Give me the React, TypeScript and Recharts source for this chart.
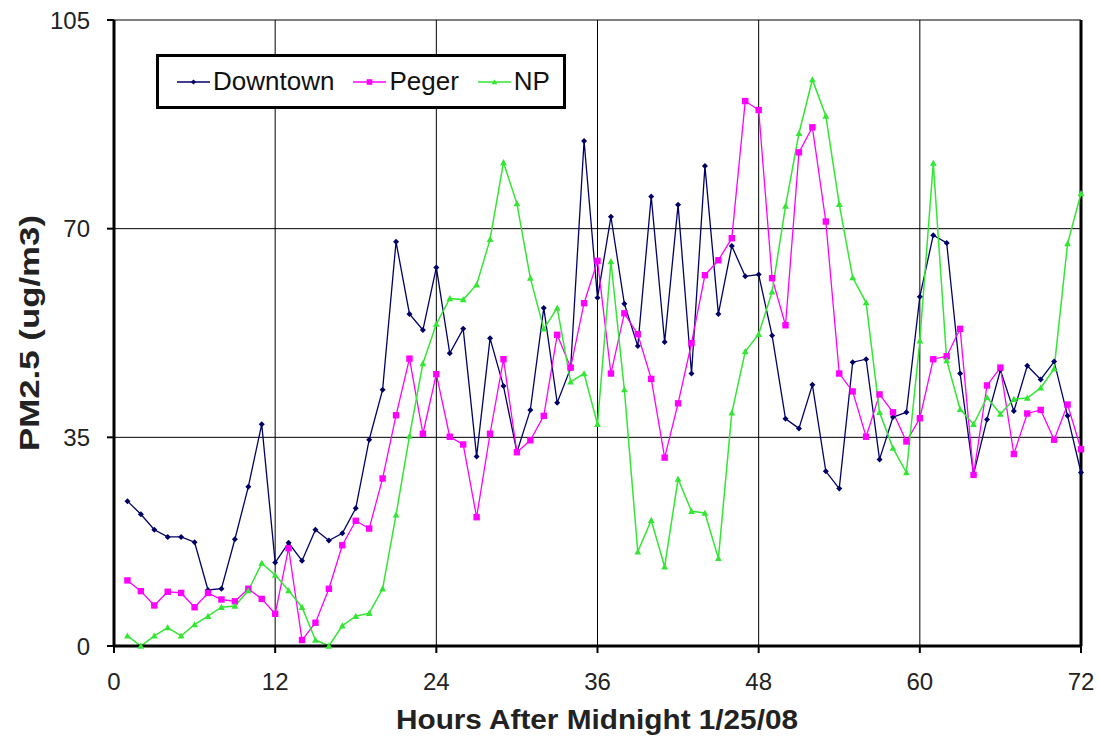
import { LineChart, Line, XAxis, YAxis, CartesianGrid, ReferenceLine, Label } from 'recharts';

const hours = [
  1, 2, 3, 4, 5, 6, 7, 8, 9, 10, 11, 12, 13, 14, 15, 16, 17, 18, 19, 20, 21, 22, 23, 24,
  25, 26, 27, 28, 29, 30, 31, 32, 33, 34, 35, 36, 37, 38, 39, 40, 41, 42, 43, 44, 45, 46, 47, 48,
  49, 50, 51, 52, 53, 54, 55, 56, 57, 58, 59, 60, 61, 62, 63, 64, 65, 66, 67, 68, 69, 70, 71, 72,
];

const downtown = [
  24.3, 22.1, 19.5, 18.3, 18.3, 17.4, 9.4, 9.6, 17.9, 26.7,
  37.2, 14.0, 17.3, 14.3, 19.5, 17.7, 18.9, 23.1, 34.6, 43.0,
  67.8, 55.7, 53.0, 63.5, 49.1, 53.2, 31.8, 51.6, 43.6, 32.5,
  39.6, 56.7, 40.8, 46.6, 84.7, 58.4, 72.0, 57.4, 50.3, 75.4,
  51.0, 74.0, 45.7, 80.5, 55.7, 67.1, 62.0, 62.3, 52.1, 38.1,
  36.5, 43.8, 29.3, 26.4, 47.6, 48.1, 31.3, 38.4, 39.2, 58.6,
  68.9, 67.6, 45.7, 28.8, 38.0, 46.3, 39.4, 47.0, 44.7, 47.7, 38.6, 29.1,
];

const peger = [
  11.0, 9.2, 6.8, 9.1, 8.9, 6.5, 8.9, 7.8, 7.5, 9.6,
  7.9, 5.4, 16.4, 1.0, 3.9, 9.6, 16.9, 21.0, 19.7, 28.1,
  38.7, 48.2, 35.6, 45.6, 35.1, 33.8, 21.6, 35.6, 48.1, 32.5,
  34.5, 38.6, 52.2, 46.7, 57.5, 64.6, 45.7, 55.8, 52.3, 44.8,
  31.6, 40.7, 50.8, 62.2, 64.7, 68.4, 91.4, 89.9, 61.7, 53.8,
  82.8, 87.0, 71.2, 45.7, 42.7, 35.1, 42.2, 39.2, 34.3, 38.2,
  48.1, 48.6, 53.2, 28.7, 43.7, 46.7, 32.2, 39.0, 39.6, 34.6, 40.5, 33.0,
];

const np = [
  1.7, 0, 1.7, 3.1, 1.7, 3.6, 5.0, 6.5, 6.7, 9.3,
  13.9, 11.9, 9.3, 6.5, 1.0, 0, 3.4, 5.0, 5.5, 9.6,
  22.0, 35.2, 47.4, 54.0, 58.3, 58.1, 60.6, 68.2, 81.1, 74.2,
  61.7, 53.2, 56.7, 44.3, 45.7, 37.2, 64.5, 43.0, 15.8, 21.1,
  13.3, 28.0, 22.6, 22.3, 14.7, 39.1, 49.4, 52.3, 59.4, 73.8,
  86.0, 95.0, 88.9, 74.1, 61.8, 57.6, 39.2, 33.2, 29.1, 51.2,
  81.0, 47.9, 39.7, 37.2, 41.7, 38.9, 41.4, 41.6, 43.3, 46.5, 67.5, 75.9,
];

const xTicks = [0, 12, 24, 36, 48, 60, 72];
const yTicks = [0, 35, 70, 105];

const NAVY = '#000066';
const MAGENTA = '#ff00ff';
const GREEN = '#33e633';
const FONT = 'Arial, "Liberation Sans", sans-serif';

const data = hours.map((h, i) => ({ hour: h, Downtown: downtown[i], Peger: peger[i], NP: np[i] }));

function diamond(cx: number, cy: number, r: number, color: string, key?: string) {
  return <path key={key} d={`M${cx},${cy - r}L${cx + r},${cy}L${cx},${cy + r}L${cx - r},${cy}Z`} fill={color} />;
}
function square(cx: number, cy: number, r: number, color: string, key?: string) {
  return <rect key={key} x={cx - r} y={cy - r} width={r * 2} height={r * 2} fill={color} />;
}
function triangle(cx: number, cy: number, r: number, color: string, key?: string) {
  return <path key={key} d={`M${cx},${cy - r}L${cx + r},${cy + r * 0.8}L${cx - r},${cy + r * 0.8}Z`} fill={color} />;
}

const legendItems = [
  { name: 'Downtown', color: NAVY, shape: diamond, r: 2.6 },
  { name: 'Peger', color: MAGENTA, shape: square, r: 2.8 },
  { name: 'NP', color: GREEN, shape: triangle, r: 2.8 },
];

export default function App() {
  return (
    <div style={{ position: 'fixed', left: 0, top: 0, width: 1099, height: 738, background: '#fff' }}>
      <LineChart width={1099} height={738} data={data} margin={{ top: 20, right: 18, bottom: 0, left: 0 }}>
        <CartesianGrid stroke="#000" strokeWidth={1} />
        <XAxis
          dataKey="hour"
          type="number"
          domain={[0, 72]}
          ticks={xTicks}
          height={92}
          axisLine={{ stroke: '#000', strokeWidth: 3 }}
          tickLine={{ stroke: '#000', strokeWidth: 2 }}
          tickSize={7}
          tickMargin={20}
          tick={{ fill: '#222', fontSize: 24, fontFamily: FONT }}
        >
          <Label
            content={() => (
              <text x={597} y={729} textAnchor="middle" fontSize={27} fontWeight="bold" fontFamily={FONT}
                fill="#222" textLength={402} lengthAdjust="spacingAndGlyphs">
                Hours After Midnight 1/25/08
              </text>
            )}
          />
        </XAxis>
        <YAxis
          type="number"
          domain={[0, 105]}
          ticks={yTicks}
          width={114}
          axisLine={{ stroke: '#000', strokeWidth: 3 }}
          tickLine={{ stroke: '#000', strokeWidth: 2 }}
          tickSize={7}
          tickMargin={17}
          tick={{ fill: '#222', fontSize: 24, fontFamily: FONT }}
        >
          <Label
            content={() => (
              <text transform="translate(39,333) rotate(-90)" textAnchor="middle" fontSize={27} fontWeight="bold"
                fontFamily={FONT} fill="#222" textLength={236} lengthAdjust="spacingAndGlyphs">
                PM2.5 (ug/m3)
              </text>
            )}
          />
        </YAxis>
        <ReferenceLine x={72} stroke="#000" strokeWidth={3} />
        <Line
          dataKey="Downtown"
          stroke={NAVY}
          strokeWidth={1.3}
          isAnimationActive={false}
          dot={(p: any) => diamond(p.cx, p.cy, 3, NAVY, `dt-${p.index}`)}
          activeDot={false}
        />
        <Line
          dataKey="Peger"
          stroke={MAGENTA}
          strokeWidth={1.3}
          isAnimationActive={false}
          dot={(p: any) => square(p.cx, p.cy, 3.2, MAGENTA, `pg-${p.index}`)}
          activeDot={false}
        />
        <Line
          dataKey="NP"
          stroke={GREEN}
          strokeWidth={1.5}
          isAnimationActive={false}
          dot={(p: any) => triangle(p.cx, p.cy, 3.4, GREEN, `np-${p.index}`)}
          activeDot={false}
        />
      </LineChart>
      <div
        style={{
          position: 'absolute', left: 156, top: 54, width: 410, height: 55, boxSizing: 'border-box',
          border: '3px solid #000', background: '#fff', display: 'flex', alignItems: 'center',
          paddingLeft: 18, fontFamily: FONT, fontSize: 26, color: '#111',
        }}
      >
        {legendItems.map((item, i) => (
          <div key={item.name} style={{ display: 'flex', alignItems: 'center', marginRight: i < 2 ? 19 : 0 }}>
            <svg width={33} height={12} style={{ marginRight: 3 }}>
              <line x1={0} y1={6} x2={33} y2={6} stroke={item.color} strokeWidth={1.3} />
              {item.shape(16.5, 6, item.r, item.color)}
            </svg>
            <span>{item.name}</span>
          </div>
        ))}
      </div>
    </div>
  );
}
